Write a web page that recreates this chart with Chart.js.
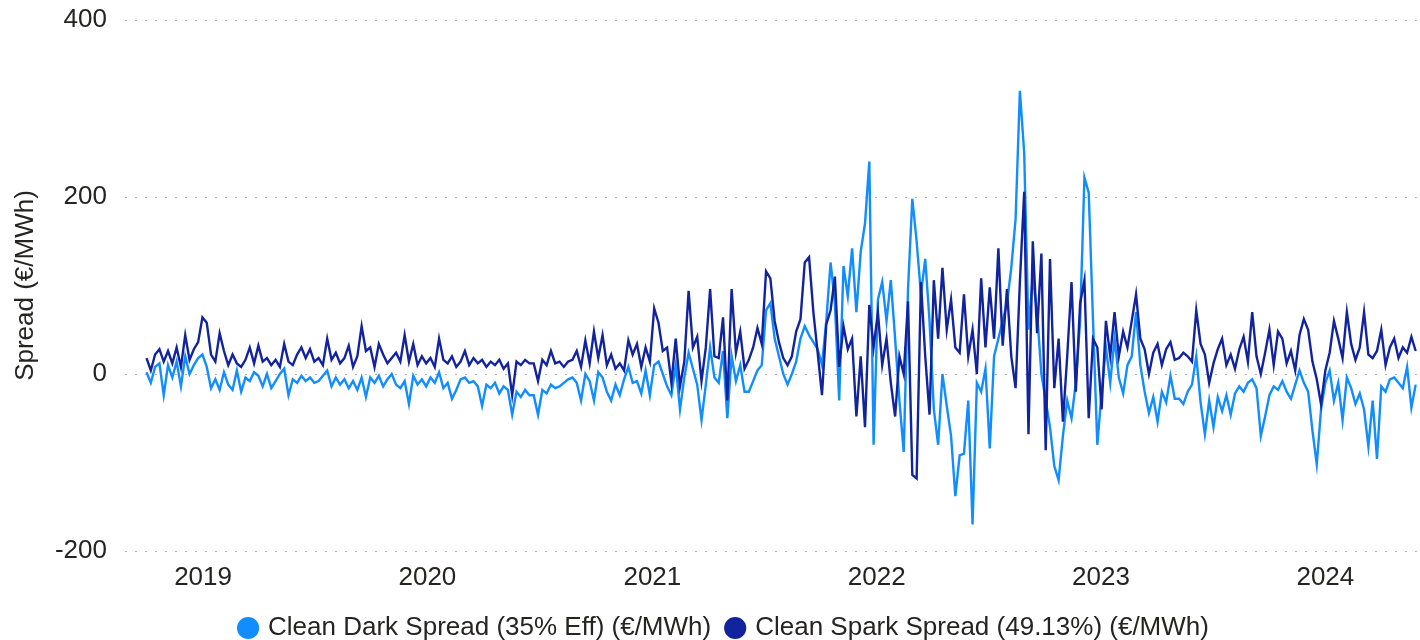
<!DOCTYPE html>
<html>
<head>
<meta charset="utf-8">
<script src="https://cdn.jsdelivr.net/npm/chart.js@4.4.1/dist/chart.umd.min.js"></script>
<style>
  html, body { margin: 0; padding: 0; background: #fff; }
  canvas { display: block; }
</style>
</head>
<body>
<canvas id="spreadChart" width="1420" height="640"></canvas>
<script>
// weekly readings, first one on 1 Oct 2018
const seriesStart = [2018, 9, 1];
const stepDays = 7;
const axisStart = [2018, 7, 27];
const axisEnd = [2024, 5, 3];
const yearTicks = [2019, 2020, 2021, 2022, 2023, 2024];

// Clean Dark Spread (35% Eff), €/MWh
const darkSpread = [
  2, -10, 8, 12, -24, 10, -4, 14, -14, 20,
  0, 10, 18, 22, 8, -16, -6, -18, 2, -12,
  -18, 4, -20, -4, -8, 2, -2, -14, 0, -16,
  -8, 0, 6, -24, -6, -10, -2, -8, -4, -10,
  -8, -2, 4, -14, -4, -12, -6, -16, -8, -18,
  -4, -26, -4, -10, -2, -14, -6, 0, -12, -16,
  -8, -34, -2, -12, -6, -14, -4, -10, 2, -16,
  -10, -28, -18, -6, -4, -10, -8, -14, -36, -12,
  -16, -10, -22, -14, -18, -46, -20, -26, -18, -24,
  -24, -46, -18, -22, -12, -16, -14, -10, -6, -4,
  -10, -30, 0, -8, -30, 2, -4, -20, -30, -12,
  -24, -6, 8, -10, -8, -22, 4, -24, 10, 14,
  0, -14, -24, 10, -40, -4, 24, 6, -12, -52,
  -12, 30, -4, -10, 26, -50, 20, -8, 10, -20,
  -20, -8, 4, 10, 72, 80, 40, 20, 0, -12,
  0, 14, 40, 54, 44, 36, 28, 10, 60, 126,
  80, -30, 122, 88, 142, 70, 138, 170, 240, -80,
  84, 104, 60, 106, 40, -30, -88, 96, 198, 150,
  90, 130, 60, -40, -80, 0, -36, -70, -138, -92,
  -90, -30, -170, -10, -20, 6, -84, 20, 40, 60,
  80, 120, 175, 320, 250, 50, 110, 70, 0, -30,
  -60, -104, -120, -70, -30, -50, -10, 60, 222, 205,
  60, -80, -20, 30, -10, 40, -4, -22, 10, 20,
  70, 10, -20, -44, -26, -54, -20, -32, -2, -28,
  -28, -34, -20, -12, 20, -32, -68, -30, -60, -26,
  -42, -24, -46, -22, -14, -20, -10, -6, -16, -70,
  -48, -24, -14, -18, -8, -20, -28, -12, 4, -10,
  -20, -64, -102, -40, -10, 4, -30, -10, -52, -4,
  -16, -34, -22, -40, -82, -30, -96, -14, -20, -6,
  -4, -10, -16, 8, -38, -12
];

// Clean Spark Spread (49.13%), €/MWh
const sparkSpread = [
  18, 4, 22, 28, 14, 26, 12, 30, 8, 44,
  16, 28, 36, 64, 58, 22, 14, 46, 26, 10,
  22, 12, 8, 16, 30, 12, 32, 14, 18, 10,
  16, 8, 34, 14, 10, 22, 30, 18, 28, 14,
  18, 10, 40, 16, 24, 12, 18, 32, 8, 20,
  54, 26, 30, 8, 34, 22, 12, 18, 24, 14,
  44, 14, 34, 10, 20, 12, 18, 8, 40, 16,
  12, 20, 8, 14, 26, 10, 18, 12, 16, 8,
  14, 10, 16, 6, 12, -24, 14, 10, 16, 12,
  12, -8, 16, 10, 26, 12, 14, 8, 14, 16,
  26, 8, 38, 12, 48, 18, 44, 10, 22, 6,
  12, 4, 38, 22, 34, 8, 30, 14, 74, 58,
  26, 30, -10, 40, -14, 14, 94, 30, 42, -8,
  30, 96, 20, 18, 64, -30, 96, 24, 48, 6,
  16, 30, 52, 34, 116, 108, 60, 36, 18, 10,
  20, 48, 62, 126, 132, 70, 24, -24, 56, 72,
  110, 8, 54, 28, 40, -48, 20, -60, 78, 30,
  70, 10, 40, -10, -48, 20, 0, 82, -114, -118,
  104, 20, -46, 106, 40, 120, 50, 84, 30, 24,
  90, 20, 50, 0, 108, 30, 98, 40, 142, 32,
  96, 20, -16, 104, 206, -68, 150, 46, 136, -86,
  130, -16, 40, -54, 20, 104, -20, 80, 106, -50,
  40, 30, -40, 60, 20, 70, 20, 48, 30, 60,
  90, 40, 28, 0, 24, 34, 10, 28, 36, 16,
  18, 24, 20, 14, 72, 34, 22, -10, 12, 28,
  40, 10, 22, 6, 28, 42, 14, 70, 20, 0,
  24, 50, 10, 48, 40, 12, 26, 4, 44, 62,
  50, 14, -6, -34, 4, 24, 60, 40, 18, 70,
  34, 16, 30, 70, 22, 18, 26, 50, 10, 30,
  40, 18, 30, 24, 42, 26
];

const DAY = 86400000;
const t0 = Date.UTC(...seriesStart);
const toPoints = vals => vals.map((v, i) => ({ x: t0 + i * stepDays * DAY, y: v }));

const textColor = '#252423';
Chart.defaults.font.family = "'Liberation Sans', Arial, sans-serif";
Chart.defaults.font.size = 26;
Chart.defaults.color = textColor;

new Chart(document.getElementById('spreadChart'), {
  type: 'line',
  data: {
    datasets: [
      {
        label: 'Clean Dark Spread (35% Eff) (€/MWh)',
        data: toPoints(darkSpread),
        borderColor: '#118DFF',
        backgroundColor: '#118DFF',
        borderWidth: 2.4,
        pointRadius: 0,
        tension: 0,
        order: 1
      },
      {
        label: 'Clean Spark Spread (49.13%) (€/MWh)',
        data: toPoints(sparkSpread),
        borderColor: '#12239E',
        backgroundColor: '#12239E',
        borderWidth: 2.4,
        pointRadius: 0,
        tension: 0,
        order: 0
      }
    ]
  },
  options: {
    responsive: false,
    animation: false,
    layout: { padding: { top: 20, left: 30, right: 0, bottom: -11 } },
    plugins: {
      legend: {
        position: 'bottom',
        labels: {
          usePointStyle: true,
          pointStyle: 'circle',
          boxWidth: 14,
          boxHeight: 14,
          padding: 17,
          sort: (a, b) => a.datasetIndex - b.datasetIndex
        }
      },
      tooltip: { enabled: false }
    },
    scales: {
      x: {
        type: 'linear',
        min: Date.UTC(...axisStart),
        max: Date.UTC(...axisEnd),
        grid: { display: false },
        border: { display: false },
        afterBuildTicks: axis => {
          axis.ticks = yearTicks.map(y => ({ value: Date.UTC(y, 0, 1) }));
        },
        afterFit: axis => { axis.height = 47; },
        ticks: {
          padding: 3,
          maxRotation: 0,
          autoSkip: false,
          callback: v => new Date(v).getUTCFullYear()
        }
      },
      y: {
        min: -200,
        max: 400,
        afterFit: axis => {
          axis.width = 95;
          axis.paddingTop = 0;
          axis.paddingBottom = 0;
        },
        ticks: { stepSize: 200, padding: 18 },
        grid: { color: '#b3b3b3', drawTicks: false, lineWidth: 1 },
        border: { display: false, dash: [2, 8] },
        title: {
          display: true,
          text: 'Spread (€/MWh)',
          padding: { top: -20, bottom: 0 }
        }
      }
    }
  }
});
</script>
</body>
</html>
